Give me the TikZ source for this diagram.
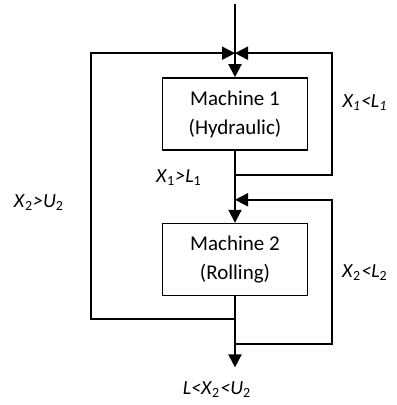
\documentclass[tikz,border=0pt]{standalone}
\usepackage{fontspec}
\setmainfont{Carlito}
\usetikzlibrary{arrows.meta, positioning}

\begin{document}
\begin{tikzpicture}[
  node distance=36pt,
  machine/.style={rectangle, draw, line width=0.8pt,
                  minimum width=72.5pt, minimum height=36pt,
                  align=center, font=\fontsize{10.5}{13}\selectfont},
  flow/.style={-{Triangle[length=6.5pt, width=6.5pt]}, line width=1pt},
  cond/.style={font=\fontsize{10}{12}\selectfont, inner sep=0pt},
]
  \useasboundingbox (-117.5pt,-145.5pt) rectangle (80.5pt,57pt);

  % the two machines in series
  \node[machine] (m1) {Machine 1\\[1.5pt](Hydraulic)};
  \node[machine, below=36pt of m1] (m2) {Machine 2\\[1.5pt](Rolling)};

  % points on the main line
  \coordinate[above=36.5pt of m1.north] (feed);
  \coordinate[above=12pt of m1.north] (merge1);
  \coordinate[below=12pt of m1.south] (split1);
  \coordinate[below=24.5pt of m1.south] (merge2);
  \coordinate[below=11.5pt of m2.south] (split0);
  \coordinate[below=24pt of m2.south] (split2);
  \coordinate[below=35.5pt of m2.south] (exit);

  % outer corners of the loops
  \coordinate[left=72pt of merge1] (lt);
  \coordinate[right=48.5pt of merge1] (rt);

  % main flow
  \draw[flow] (feed) -- (m1.north);
  \draw[flow] (m1.south) -- (m2.north);
  \draw[flow] (m2.south) -- (exit);

  % X1 < L1 goes back to machine 1
  \draw[flow] (split1) -| (rt) -- (merge1);
  % X2 > U2 goes back to machine 1
  \draw[flow] (split0) -| (lt) -- (merge1);
  % X2 < L2 goes back to machine 2
  \draw[flow] (split2) -| (rt |- merge2) -- (merge2);

  % conditions
  \node[cond] (c1) at ([xshift=65pt, yshift=5.5pt]m1.center)
    {\textit{X\textsubscript{1}<L\textsubscript{1}}};
  \node[cond] (c2) at ([xshift=-28pt, yshift=-32pt]m1.center)
    {\textit{X}\textsubscript{1}\textit{>L}\textsubscript{1}};
  \node[cond] (c3) at ([xshift=-98pt, yshift=-44.5pt]m1.center)
    {\textit{X}\textsubscript{2}\textit{>U}\textsubscript{2}};
  \node[cond] (c4) at ([xshift=65pt, yshift=-79.5pt]m1.center)
    {\textit{X}\textsubscript{2}\textit{<L}\textsubscript{2}};
  \node[cond] (c5) at ([xshift=-9pt, yshift=-138pt]m1.center)
    {\textit{L<X}\textsubscript{2}\textit{<U}\textsubscript{2}};
\end{tikzpicture}
\end{document}
